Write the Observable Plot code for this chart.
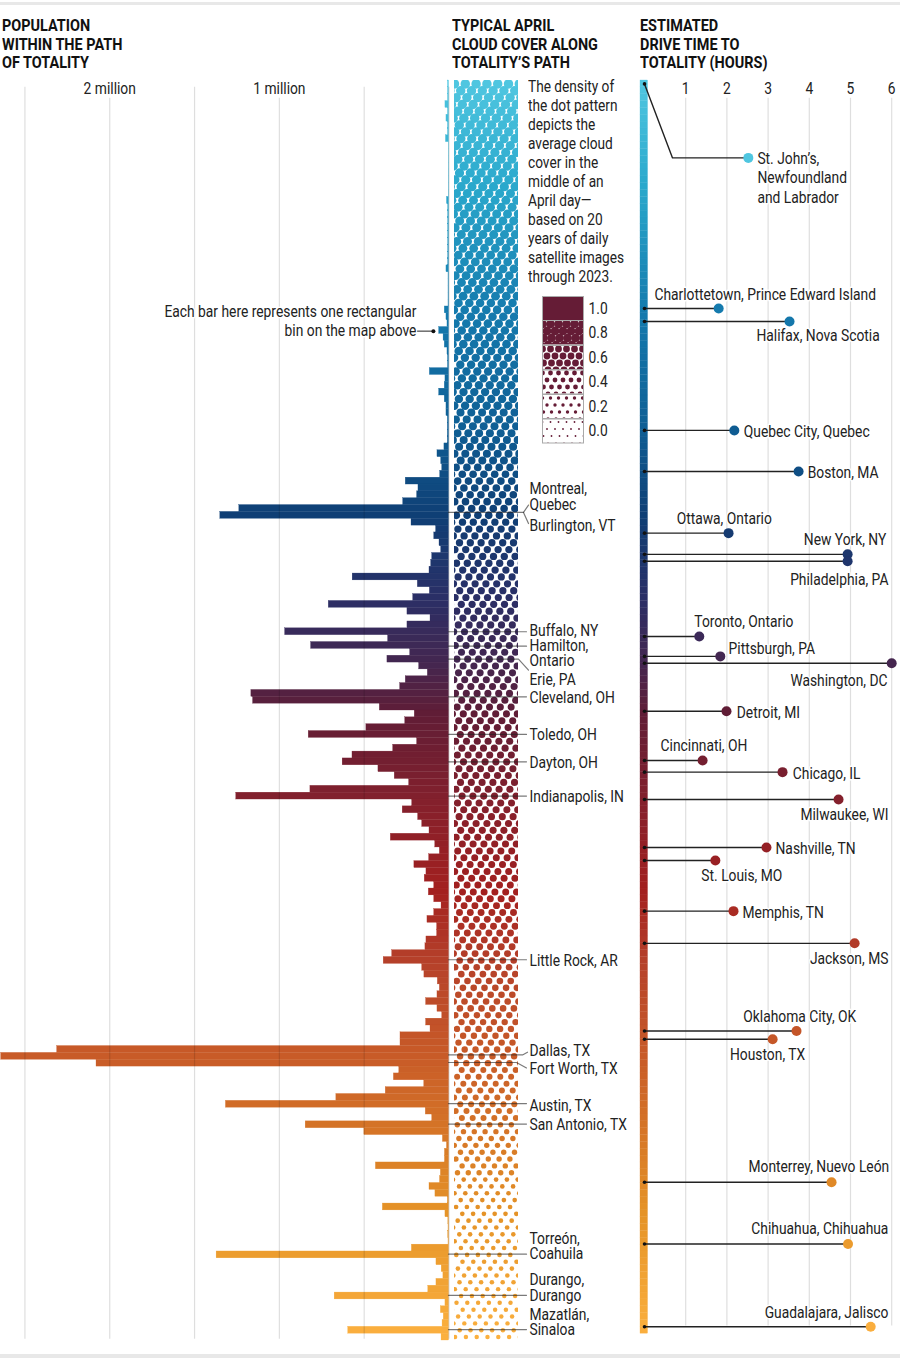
<!DOCTYPE html>
<html>
<head>
<meta charset="utf-8">
<script src="https://cdn.jsdelivr.net/npm/d3@7"></script>
<script src="https://cdn.jsdelivr.net/npm/@observablehq/plot@0.6"></script>
<style>
  body { margin: 0; background: white; }
  #page { position: relative; width: 900px; height: 1358px; overflow: hidden; color: #222;
          font-family: "Roboto", sans-serif; }
  .rule { position: absolute; left: 0; width: 900px; background: #e8e8e8; }
  .head { position: absolute; top: 17px; font-weight: bold; font-size: 16.5px; line-height: 18.7px; color: #111;
          white-space: nowrap; transform: scaleX(.875); transform-origin: left top; }
  #note { position: absolute; left: 528px; top: 77px; font-size: 16px; line-height: 19px;
          white-space: nowrap; transform: scaleX(.855); transform-origin: left top; }
</style>
</head>
<body>
<div id="page">
  <div class="rule" style="top:2px;height:3px"></div>
  <div class="rule" style="top:1354px;height:4px"></div>
  <div class="head" style="left:2px">POPULATION<br>WITHIN THE PATH<br>OF TOTALITY</div>
  <div class="head" style="left:452px">TYPICAL APRIL<br>CLOUD COVER ALONG<br>TOTALITY’S PATH</div>
  <div class="head" style="left:640px">ESTIMATED<br>DRIVE TIME TO<br>TOTALITY (HOURS)</div>
  <div id="note">The density of<br>the dot pattern<br>depicts the<br>average cloud<br>cover in the<br>middle of an<br>April day—<br>based on 20<br>years of daily<br>satellite images<br>through 2023.</div>
</div>
<script>
// population per bin along the path, north-east to south-west, in thousands
const population = [
  6,6,6,21,6,15,6,6,18,2,2,2,2,2,2,2,2,12,5,5,5,5,5,5,5,5,5,15,3,3,3,3,3,25,15,9,
  58,32,25,9,6,6,113,21,25,58,25,15,15,7,7,7,7,27,68,46,40,52,255,180,188,270,1236,1348,221,76,87,56,46,99,
  105,115,568,184,113,211,709,245,109,245,966,359,813,229,363,176,125,255,288,1165,1155,408,202,258,487,827,188,329,569,627,
  416,320,235,817,1254,217,273,182,158,115,343,81,54,117,204,133,143,87,119,87,44,87,127,70,70,133,139,335,385,158,
  145,66,54,68,135,68,40,135,109,286,286,2310,2640,2078,293,325,146,373,664,1315,137,99,845,499,36,12,24,24,431,48,
  53,115,80,7,390,21,4,3,5,3,219,1370,74,43,33,74,122,674,21,48,31,38,594,44
];
// cloud cover, one reading per 8 bins
const cloudCover = [.83,.82,.81,.8,.78,.76,.72,.68,.65,.64,.63,.63,.63,.63,.62,.61,.58,.56,.52,.46,.38,.37,.35];
const legendLevels = [1, .8, .6, .4, .2, 0];

const gradientBins = [0,15,33,50,63,75,85,92,105,118,128,142,155,165,183];
const gradientColors = ["#4fc6e0","#2aa8cc","#157bae","#0f5f95","#0f3f75","#2a2f66","#45264f","#601d36","#84202c","#a3201f","#b5402a","#c85b28","#d87a27","#e59327","#fbb03f"];

const popGrid = [0,500,1000,1500,2000,2500];
const popTicks = [1000,2000];
const hourTicks = [1,2,3,4,5,6];

const driveCities = ["St. John’s","Charlottetown","Halifax","Quebec City","Boston","Ottawa","New York","Philadelphia","Toronto","Pittsburgh","Washington","Detroit","Cincinnati","Chicago","Milwaukee","Nashville","St. Louis","Memphis","Jackson","Oklahoma City","Houston","Monterrey","Chihuahua","Guadalajara"];
const driveHours = [2.52,1.8,3.52,2.18,3.74,2.04,4.93,4.93,1.33,1.84,6,1.99,1.41,3.35,4.71,2.96,1.72,2.16,5.1,3.69,3.11,4.54,4.94,5.49];
const driveBins = [11.3,33.3,35.2,51.1,57.1,66.1,69.2,70.2,81.2,84.1,85.1,92.1,99.3,101,105,112,113.9,121.3,126,138.8,140,160.9,169.9,182];

// label text, hours, bin, anchor
const driveLabels = [
  ["St. John’s,\nNewfoundland\nand Labrador",2.74,14.15,"start"],
  ["Charlottetown, Prince Edward Island",.24,31.15,"start"],
  ["Halifax, Nova Scotia",5.71,37.2,"end"],
  ["Quebec City, Quebec",2.41,51.2,"start"],
  ["Boston, MA",3.96,57.2,"start"],
  ["Ottawa, Ontario",.78,63.9,"start"],
  ["New York, NY",5.87,67,"end"],
  ["Philadelphia, PA",5.92,72.8,"end"],
  ["Toronto, Ontario",1.21,78.9,"start"],
  ["Pittsburgh, PA",2.04,82.8,"start"],
  ["Washington, DC",5.9,87.6,"end"],
  ["Detroit, MI",2.24,92.2,"start"],
  ["Cincinnati, OH",.39,97,"start"],
  ["Chicago, IL",3.6,101.1,"start"],
  ["Milwaukee, WI",5.92,107.1,"end"],
  ["Nashville, TN",3.18,112.1,"start"],
  ["St. Louis, MO",1.38,116,"start"],
  ["Memphis, TN",2.38,121.4,"start"],
  ["Jackson, MS",5.92,128.1,"end"],
  ["Oklahoma City, OK",5.14,136.6,"end"],
  ["Houston, TX",3.9,142.1,"end"],
  ["Monterrey, Nuevo León",5.94,158.5,"end"],
  ["Chihuahua, Chihuahua",5.92,167.5,"end"],
  ["Guadalajara, Jalisco",5.92,179.8,"end"]
];

// labels beside the dot strip: text, bin
const pathLabels = [
  ["Montreal,\nQuebec",60.7],["Burlington, VT",65],["Buffalo, NY",80.3],["Hamilton,\nOntario",83.6],["Erie, PA",87.4],
  ["Cleveland, OH",90],["Toledo, OH",95.5],["Dayton, OH",99.6],["Indianapolis, IN",104.5],["Little Rock, AR",128.5],
  ["Dallas, TX",141.6],["Fort Worth, TX",144.2],["Austin, TX",149.6],["San Antonio, TX",152.4],
  ["Torreón,\nCoahuila",170.2],["Durango,\nDurango",176.2],["Mazatlán,\nSinaloa",181.2]
];
// leader lines as [strip units, bin] points
const leaderBins = [80.5,82.6,90,95.5,99.5,104.5,128.4,149.4,152.4,171.4,177.4,182.4];
const leaderBends = [
  [[-6,63.07],[69,63.07],[74,62]],
  [[69,63.07],[74,64.7]],
  [[-6,84.5],[64,84.5],[74,86.1]],
  [[-6,142.3],[68,142.3],[73,141.9]],
  [[-6,143.4],[62,143.4],[72,144.2]]
];

const nBins = population.length;
const gradient = d3.scaleLinear().domain(gradientBins).range(gradientColors);
const bins = population.map((pop, bin) => ({ pop, bin, color: gradient(bin) }));

const coverRadius = { type: "linear", domain: [0,.2,.4,.6,.8,1], range: [.9,1.7,2.4,3.4,4.4,6.5] };
const font = '"Roboto", sans-serif';
const baseStyle = { background: "transparent", position: "absolute", left: "0", top: "0", overflow: "visible", fontFamily: font };
const yScale = { domain: [0, nBins], reverse: true, axis: null };
const frame = { width: 900, height: 1358, marginTop: 80, marginBottom: 18 };
const textSize = 16;

// offset dot grid; the rows drift a little so the columns run on a slant
function dotGrid(rows, width, spacing, slant, coverAt) {
  const out = [];
  for (let row = 0; row < rows; row++) {
    const shift = ((row % 2 ? spacing / 2 : 0) + row * slant) % spacing;
    for (let k = -1; k * spacing + shift < width + spacing; k++) {
      out.push({ x: k * spacing + shift, row: row + .5, cover: coverAt(row), color: gradient(row) });
    }
  }
  return out;
}

// population bars
const popChart = Plot.plot({
  ...frame,
  marginLeft: 0,
  marginRight: 451.5,
  style: baseStyle,
  x: { domain: [2644, 0], axis: null },
  y: yScale,
  marks: [
    Plot.rect(bins, { x1: 0, x2: "pop", y1: "bin", y2: d => d.bin + 1, fill: "color", stroke: "color", strokeWidth: .3 }),
    Plot.ruleX(popGrid.filter(d => !popTicks.includes(d)), { y1: 1, y2: nBins - .2, stroke: "#000", strokeOpacity: .13, strokeWidth: 1.2 }),
    Plot.ruleX(popTicks, { y1: 2.6, y2: nBins - .2, stroke: "#000", strokeOpacity: .13, strokeWidth: 1.2 }),
    Plot.text(popTicks, { x: d => d, y: 1.2, text: d => `${d / 1000} million`, fontSize: textSize, fill: "#222" }),
    Plot.text(["Each bar here represents one rectangular\nbin on the map above"], { x: 192, y: 35.1, textAnchor: "end", lineHeight: 1.19, fontSize: textSize, fill: "#222", stroke: "white", strokeWidth: 3 }),
    Plot.ruleY([36.6], { x1: 185, x2: 92, stroke: "#222", strokeWidth: 1 }),
    Plot.dot([36.6], { x: 92, y: d => d, r: 2, fill: "#111" })
  ]
});

// cloud cover strip
const stripDots = dotGrid(nBins, 64, 10.8, .8, row => cloudCover[Math.min(Math.floor(row / 8), cloudCover.length - 1)]);
const leaders = [
  ...leaderBins.flatMap((b, i) => [[-6, b, i], [72, b, i]]),
  ...leaderBends.flatMap((pts, i) => pts.map(p => [p[0], p[1], `bend${i}`]))
];
const cloudChart = Plot.plot({
  ...frame,
  marginLeft: 454,
  marginRight: 382,
  style: baseStyle,
  x: { domain: [0, 64], axis: null },
  y: yScale,
  r: coverRadius,
  marks: [
    Plot.dot(stripDots, { x: "x", y: "row", r: "cover", fill: "color", clip: "frame" }),
    Plot.line(leaders, { x: d => d[0], y: d => d[1], z: d => d[2], stroke: "#222", strokeOpacity: .6, strokeWidth: 1.2 }),
    Plot.text(pathLabels, { x: 75, y: d => d[1], dy: 1, text: d => d[0], textAnchor: "start", lineHeight: .95, fontSize: textSize, fill: "#222" })
  ]
});

// legend tiles
const legendCharts = legendLevels.map((level, i) => {
  const tile = dotGrid(4, 41, 8, .5, () => level).map(d => ({ ...d, color: "#651c36" }));
  return Plot.plot({
    width: 90,
    height: 26.5,
    marginTop: 1,
    marginBottom: 1,
    marginLeft: 1,
    marginRight: 48,
    style: { ...baseStyle, left: "541px", top: `${294.5 + i * 24.5}px` },
    x: { domain: [0, 41], axis: null },
    y: { domain: [0, 3.5], reverse: true, axis: null },
    r: coverRadius,
    marks: [
      level === 1 ? Plot.frame({ fill: "#651c36" }) : Plot.dot(tile, { x: "x", y: "row", r: "cover", fill: "color", clip: "frame" }),
      Plot.frame({ stroke: "#aaa", strokeWidth: 1 }),
      Plot.text([level.toFixed(1)], { frameAnchor: "right", dx: 5, textAnchor: "start", fontSize: 16, fill: "#222" })
    ]
  });
});

// drive times
const driveRows = driveCities.map((city, i) => ({ city, hours: driveHours[i], bin: driveBins[i], color: gradient(driveBins[i]) }));
const stJohnsPath = [[0, .5], [.68, driveBins[0]], [driveHours[0], driveBins[0]]];
const driveText = anchor => Plot.text(driveLabels.filter(d => d[3] === anchor), { x: d => d[1], y: d => d[2], text: d => d[0], textAnchor: anchor, lineHeight: 1.19, fontSize: textSize, fill: "#222", stroke: "white", strokeWidth: 3 });
const driveChart = Plot.plot({
  ...frame,
  marginLeft: 644,
  marginRight: .56,
  style: baseStyle,
  x: { domain: [0, 6.2], axis: null },
  y: yScale,
  marks: [
    Plot.ruleX(hourTicks, { y1: 2.6, y2: 181.9, stroke: "#000", strokeOpacity: .13, strokeWidth: 1.2 }),
    Plot.text(hourTicks, { x: d => d, y: 1.2, fontSize: textSize, fill: "#222" }),
    driveText("start"),
    driveText("end"),
    Plot.rect(bins.filter(d => d.bin < 183), { x1: 0, x2: 0, y1: "bin", y2: d => d.bin + 1, insetLeft: -4, insetRight: -3.5, fill: "color", stroke: "color", strokeWidth: .3 }),
    Plot.ruleY(driveRows.slice(1), { y: "bin", x1: 0, x2: "hours", stroke: "#222", strokeWidth: 1.4 }),
    Plot.line(stJohnsPath, { x: d => d[0], y: d => d[1], stroke: "#222", strokeWidth: 1.4 }),
    Plot.dot(driveRows.slice(1), { x: 0, y: "bin", r: 1.8, fill: "#111" }),
    Plot.dot([stJohnsPath[0]], { x: d => d[0], y: d => d[1], r: 1.8, fill: "#111" }),
    Plot.dot(driveRows.slice(1), { x: "hours", y: "bin", r: 5, fill: "color" }),
    Plot.dot(driveRows.slice(0, 1), { x: "hours", y: "bin", r: 5, fill: gradient(0) })
  ]
});

const page = document.getElementById("page");
[popChart, cloudChart, ...legendCharts, driveChart].forEach(c => page.append(c));

// no condensed face is installed, so narrow the chart text the way the reference sets it
page.querySelectorAll("svg text").forEach(t => {
  t.setAttribute("transform", `${t.getAttribute("transform") || ""} scale(.865,1)`);
});
</script>
</body>
</html>
